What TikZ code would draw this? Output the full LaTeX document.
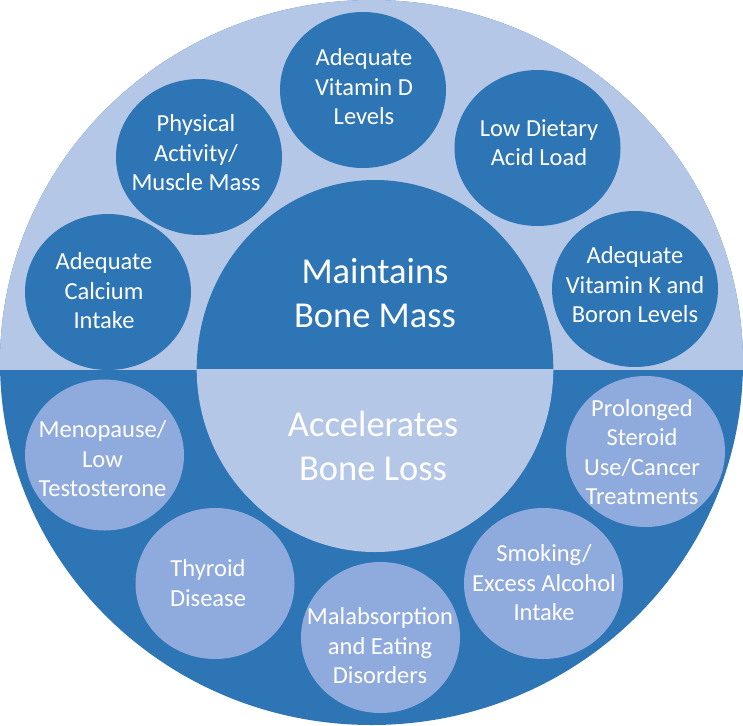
\documentclass[tikz,border=0pt]{standalone}
\usepackage{fontspec}
\setmainfont{Carlito}
\usetikzlibrary{shapes.geometric}
\definecolor{lightb}{HTML}{B4C7E7}
\definecolor{darkb}{HTML}{2E75B6}
\definecolor{midb}{HTML}{8FAADC}
\begin{document}
\begin{tikzpicture}[x=1pt,y=-1pt,
  topc/.style={ellipse,fill=darkb,minimum width=166pt,minimum height=156pt,inner sep=0pt},
  botc/.style={ellipse,fill=midb,minimum width=159pt,minimum height=151pt,inner sep=0pt},
  smalltxt/.style={text=white,align=center,inner sep=0pt,font=\fontsize{24.5}{29.5}\selectfont},
  bigtxt/.style={text=white,align=center,inner sep=0pt,font=\fontsize{36.5}{43.5}\selectfont}]
\useasboundingbox (0,0) rectangle (743,725);
% outer disc
\fill[darkb] (371.5,362.5) ellipse [x radius=371.5pt, y radius=362.5pt];
\begin{scope}
  \clip (0,0) rectangle (743,369);
  \fill[lightb] (371.5,362.5) ellipse [x radius=371.5pt, y radius=362.5pt];
\end{scope}
% central disc
\fill[darkb] (196.7,369) arc [start angle=180, end angle=0, x radius=178.3pt, y radius=189pt] -- cycle;
\fill[lightb] (196.7,369) arc [start angle=180, end angle=360, x radius=178.3pt, y radius=183pt] -- cycle;
\node[bigtxt] (maint) at (375,293) {Maintains\\Bone Mass};
\node[bigtxt] (accel) at (373,446) {Accelerates\\Bone Loss};
% top circles
\node[topc] (calc) at (108,292) {};
\node[topc] (phys) at (199,157) {};
\node[topc] (vitd) at (363,90) {};
\node[topc] (acid) at (537.5,148) {};
\node[topc] (vitk) at (635,289) {};
\node[smalltxt] (calcT) at (104,291) {Adequate\\Calcium\\Intake};
\node[smalltxt] (physT) at (196,153) {Physical\\Activity/\\Muscle Mass};
\node[smalltxt] (vitdT) at (364,87) {Adequate\\Vitamin D\\Levels};
\node[smalltxt] (acidT) at (539,142.5) {Low Dietary\\Acid Load};
\node[smalltxt] (vitkT) at (635,285) {Adequate\\Vitamin K and\\Boron Levels};
% bottom circles
\node[botc] (meno) at (104.5,455) {};
\node[botc] (thyr) at (215,583.5) {};
\node[botc] (mala) at (380.5,637.5) {};
\node[botc] (smok) at (543.5,583.5) {};
\node[botc] (ster) at (645.5,451.5) {};
\node[smalltxt] (menoT) at (102.5,459) {Menopause/\\Low\\Testosterone};
\node[smalltxt] (thyrT) at (208,583) {Thyroid\\Disease};
\node[smalltxt] (malaT) at (380,646) {Malabsorption\\and Eating\\Disorders};
\node[smalltxt] (smokT) at (544,583) {Smoking/\\Excess Alcohol\\Intake};
\node[smalltxt] (sterT) at (642,452) {Prolonged\\Steroid\\Use/Cancer\\Treatments};
\end{tikzpicture}
\end{document}
